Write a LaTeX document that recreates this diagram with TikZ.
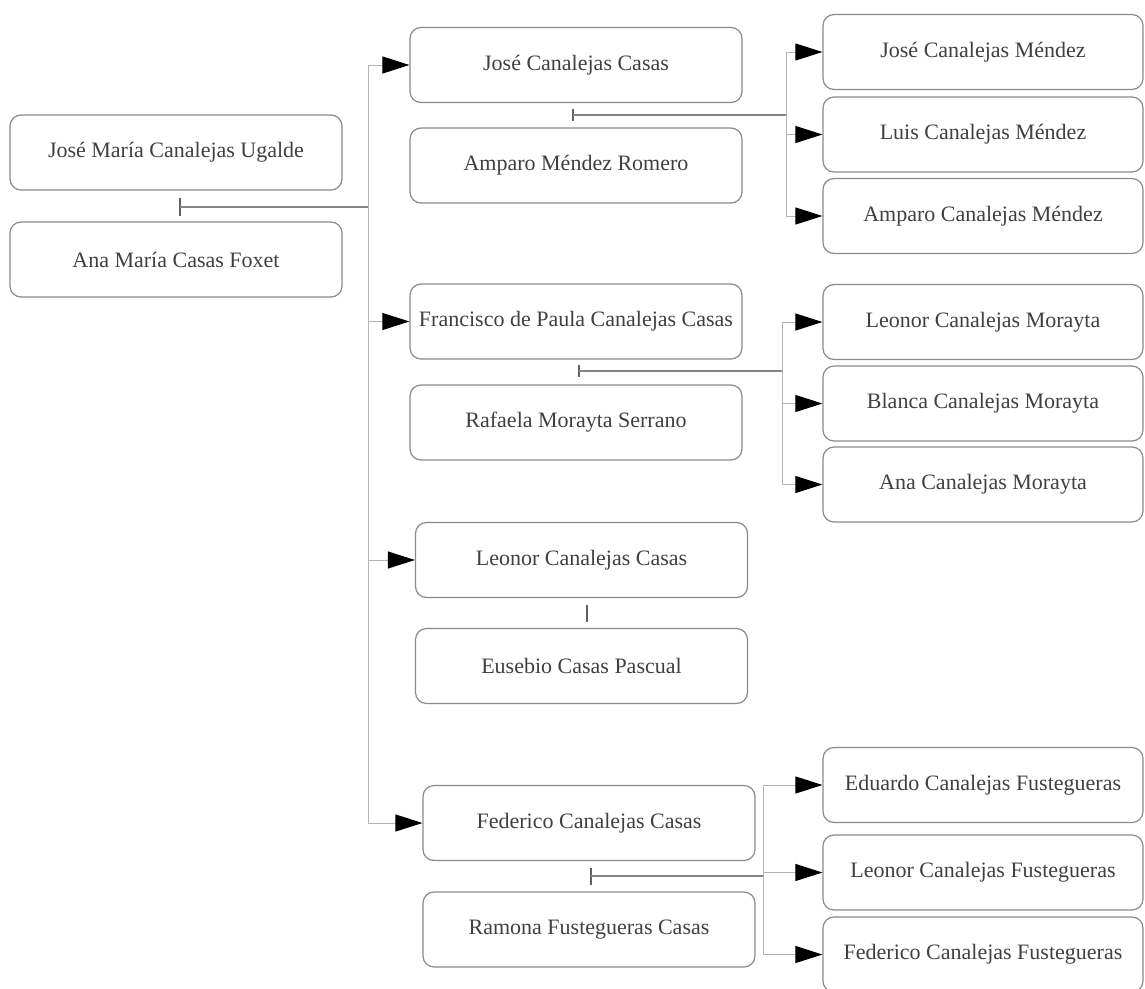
\documentclass[tikz,border=0pt]{standalone}
\usepackage{fontspec}
\setmainfont{Liberation Serif}
\usetikzlibrary{arrows.meta,positioning}
\definecolor{txt}{HTML}{404040}
\definecolor{boxline}{HTML}{8A8A8A}
\definecolor{connline}{HTML}{B4B4B4}
\definecolor{marline}{HTML}{858585}
\definecolor{tickline}{HTML}{606060}
\tikzset{
  person/.style={draw=boxline, line width=1.2pt, rounded corners=11pt, fill=white,
    minimum height=75pt, inner sep=0pt, text=txt, font=\fontsize{22}{24}\selectfont},
  gentwo/.style={person, minimum width=332pt},
  genthree/.style={person, minimum width=320pt},
  conn/.style={draw=connline, line width=1pt},
  childarrow/.style={conn, -{Triangle[length=27pt,width=17pt,color=black]}},
  marriage/.style={draw=marline, line width=1.4pt},
  tickmark/.style={draw=tickline, line width=1.6pt}
}
\begin{document}
\begin{tikzpicture}[x=1pt,y=-1pt]
\useasboundingbox (0,0) rectangle (1145,988);
% generation 1
\node[gentwo] (a1) at (176,152.5) {José María Canalejas Ugalde};
\node[gentwo] (a2) at (176,259.5) {Ana María Casas Foxet};
% generation 2
\node[gentwo] (b1) at (576,65) {José Canalejas Casas};
\node[gentwo] (b2) at (576,165.5) {Amparo Méndez Romero};
\node[gentwo] (b3) at (576,321.5) {Francisco de Paula Canalejas Casas};
\node[gentwo] (b4) at (576,422.5) {Rafaela Morayta Serrano};
\node[gentwo] (b5) at (581.5,560) {Leonor Canalejas Casas};
\node[gentwo] (b6) at (581.5,666) {Eusebio Casas Pascual};
\node[gentwo] (b7) at (589,823) {Federico Canalejas Casas};
\node[gentwo] (b8) at (589,929.5) {Ramona Fustegueras Casas};
% generation 3
\node[genthree] (c1) at (983,52) {José Canalejas Méndez};
\node[genthree] (c2) at (983,134.5) {Luis Canalejas Méndez};
\node[genthree] (c3) at (983,216) {Amparo Canalejas Méndez};
\node[genthree] (d1) at (983,322) {Leonor Canalejas Morayta};
\node[genthree] (d2) at (983,403.5) {Blanca Canalejas Morayta};
\node[genthree] (d3) at (983,484.5) {Ana Canalejas Morayta};
\node[genthree] (e1) at (983,785) {Eduardo Canalejas Fustegueras};
\node[genthree] (e2) at (983,872.5) {Leonor Canalejas Fustegueras};
\node[genthree] (e3) at (983,954.5) {Federico Canalejas Fustegueras};
% marriage points and junctions
\coordinate (ma) at (180,207);
\coordinate (ja) at (368,207);
\coordinate (mb) at (573,115);
\coordinate (jb) at (786,115);
\coordinate (mc) at (579,371);
\coordinate (jc) at (782,371);
\coordinate (md) at (587,613.5);
\coordinate (me) at (591,876);
\coordinate (je) at (763,876);
% ticks
\foreach \m/\h in {ma/9, mb/6, mc/6, md/8.5, me/8.5}
  \draw[tickmark] (\m) ++(0,-\h) -- ++(0,2*\h);
% generation 1 -> 2
\draw[marriage] (ma) -- (ja);
\foreach \c in {b1,b3,b5,b7}
  \draw[childarrow] (ja) |- (\c.west);
% José Canalejas Casas + Amparo
\draw[marriage] (mb) -- (jb);
\foreach \c in {c1,c2,c3}
  \draw[childarrow] (jb) |- (\c.west);
% Francisco + Rafaela
\draw[marriage] (mc) -- (jc);
\foreach \c in {d1,d2,d3}
  \draw[childarrow] (jc) |- (\c.west);
% Federico + Ramona
\draw[marriage] (me) -- (je);
\foreach \c in {e1,e2,e3}
  \draw[childarrow] (je) |- (\c.west);
\end{tikzpicture}
\end{document}
